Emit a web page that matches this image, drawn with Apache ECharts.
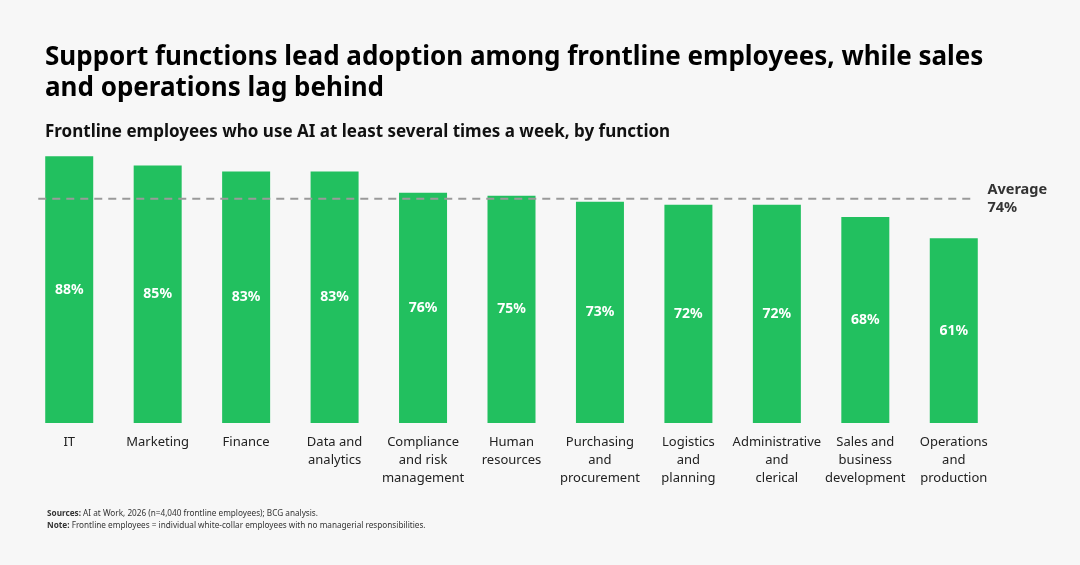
<!DOCTYPE html>
<html>
<head>
<meta charset="utf-8">
<title>Frontline AI adoption by function</title>
<script src="https://cdn.jsdelivr.net/npm/echarts@6/dist/echarts.min.js"></script>
<style>
  html, body { margin: 0; padding: 0; background: #f7f7f7; }
  #chart { width: 1080px; height: 565px; }
</style>
</head>
<body>
<div id="chart"></div>
<script>
// ---- data ----
const functions = [
  'IT', 'Marketing', 'Finance', 'Data and\nanalytics', 'Compliance\nand risk\nmanagement',
  'Human\nresources', 'Purchasing\nand\nprocurement', 'Logistics\nand\nplanning',
  'Administrative\nand\nclerical', 'Sales and\nbusiness\ndevelopment', 'Operations\nand\nproduction'
];
const usage = [88, 85, 83, 83, 76, 75, 73, 72, 72, 68, 61];
const average = 74;
// where the dashed average line starts / ends, in category units
const avgLineSpan = [-0.35, 10.2];

const FONT = '"Noto Sans", "Open Sans", sans-serif';
const GREEN = '#22c05f';

const chart = echarts.init(document.getElementById('chart'));
chart.setOption({
  backgroundColor: '#f7f7f7',
  animation: false,
  textStyle: { fontFamily: FONT },
  title: [
    {
      text: 'Support functions lead adoption among frontline employees, while sales\nand operations lag behind',
      left: 40, top: 37,
      textStyle: { fontFamily: FONT, fontSize: 26, fontWeight: 'bold', color: '#000', lineHeight: 31 }
    },
    {
      text: 'Frontline employees who use AI at least several times a week, by function',
      left: 40, top: 119,
      textStyle: { fontFamily: FONT, fontSize: 17, fontWeight: 'bold', color: '#111' }
    },
    {
      text: '{b|Sources:} AI at Work, 2026 (n=4,040 frontline employees); BCG analysis.\n{b|Note:} Frontline employees = individual white-collar employees with no managerial responsibilities.',
      left: 42, top: 503,
      textStyle: {
        fontFamily: FONT, fontSize: 8.2, fontWeight: 'normal', color: '#333', lineHeight: 11.5,
        rich: { b: { fontFamily: FONT, fontSize: 8.2, fontWeight: 'bold', color: '#333' } }
      }
    }
  ],
  grid: { left: 25, right: 82, top: 120, bottom: 142, containLabel: false },
  xAxis: [
    {
      type: 'category',
      data: functions,
      axisLine: { show: false },
      axisTick: { show: false },
      axisLabel: {
        interval: 0, margin: 10, color: '#222', fontSize: 13, lineHeight: 18,
        fontFamily: FONT, verticalAlign: 'top'
      }
    },
    { type: 'value', min: -0.5, max: 10.5, show: false }
  ],
  yAxis: { type: 'value', min: 0, max: 100, show: false },
  series: [
    {
      type: 'bar',
      data: usage,
      barWidth: 48,
      itemStyle: { color: GREEN },
      label: {
        show: true, position: 'inside', formatter: '{c}%',
        color: '#fff', fontSize: 14, fontWeight: 'bold', fontFamily: FONT
      },
      z: 2
    },
    {
      type: 'line',
      xAxisIndex: 1,
      data: avgLineSpan.map(x => [x, average]),
      symbol: 'none',
      lineStyle: { color: '#9a9a9a', width: 2, type: [8, 6] },
      endLabel: {
        show: true, distance: 16, formatter: 'Average\n' + average + '%',
        color: '#333', fontSize: 14.5, fontWeight: 'bold', lineHeight: 18, fontFamily: FONT, align: 'left'
      },
      silent: true,
      z: 3
    }
  ]
});
</script>
</body>
</html>
